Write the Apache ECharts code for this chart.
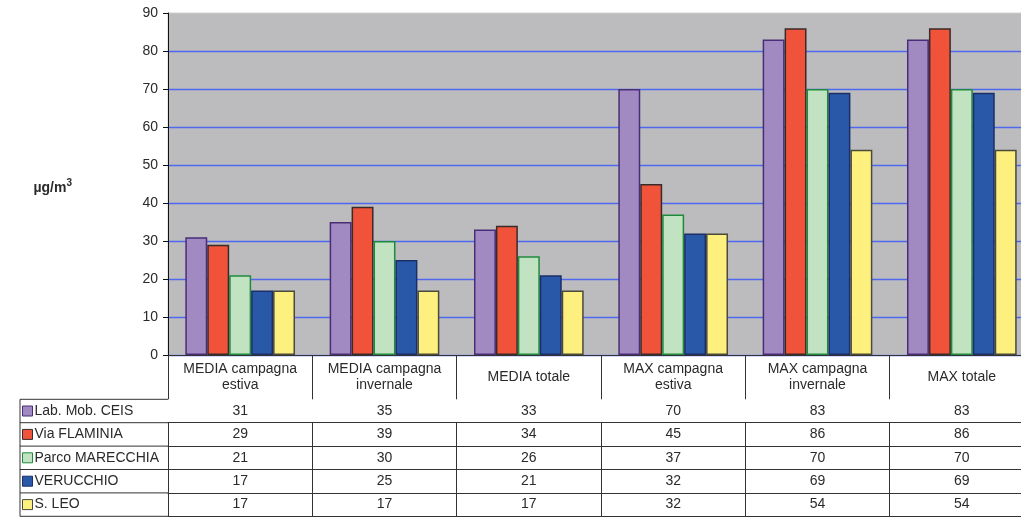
<!DOCTYPE html>
<html>
<head>
<meta charset="utf-8">
<script src="https://cdn.jsdelivr.net/npm/echarts@6/dist/echarts.min.js"></script>
<style>
  html, body { margin: 0; padding: 0; background: #fff; overflow: hidden; width: 1021px; height: 517px; }
  #chart { width: 1040px; height: 517px; }
</style>
</head>
<body>
<div id="chart"></div>
<script>
// Categories (column headers of the data table)
const categories = [
  'MEDIA campagna\nestiva',
  'MEDIA campagna\ninvernale',
  'MEDIA totale',
  'MAX campagna\nestiva',
  'MAX campagna\ninvernale',
  'MAX totale'
];

// Stations
const stations = ['Lab. Mob. CEIS', 'Via FLAMINIA', 'Parco MARECCHIA', 'VERUCCHIO', 'S. LEO'];

// Concentrations, µg/m³
const labMobCeis     = [31, 35, 33, 70, 83, 83];
const viaFlaminia    = [29, 39, 34, 45, 86, 86];
const parcoMarecchia = [21, 30, 26, 37, 70, 70];
const verucchio      = [17, 25, 21, 32, 69, 69];
const sanLeo         = [17, 17, 17, 32, 54, 54];

const yTicks = [0, 10, 20, 30, 40, 50, 60, 70, 80, 90];

const seriesValues = [labMobCeis, viaFlaminia, parcoMarecchia, verucchio, sanLeo];

// Styling
const fills   = ['#a189c1', '#f0533a', '#c2e3c2', '#2a58a8', '#fdf07e'];
const borders = ['#4a2c78', '#3a2b2b', '#1f8a3c', '#1a2f68', '#4a4a3a'];
const textColor = '#2a2a2a';
const lineColor = '#333';
const gridLineColor = '#4f68f0';
const font = 'Liberation Sans, Arial, sans-serif';
const fontSize = 14;

// Layout (the plot runs slightly past the right edge of the page)
const gridLeft = 168, gridTop = 13, gridBottomY = 355, gridWidth = 866;
const headerH = 44.3, rowH = 23.4;
const tableLeft = 20;

const chart = echarts.init(document.getElementById('chart'));

// One extra x axis per table row: its line is the row's top border,
// its ticks the column separators and its labels the row's values.
const rowAxes = stations.map((s, i) => ({
  type: 'category',
  gridIndex: 0,
  position: 'bottom',
  offset: headerH + rowH * i,
  data: categories,
  boundaryGap: true,
  axisLine: { show: true, lineStyle: { color: lineColor, width: 1 } },
  axisTick: { show: true, interval: 0, length: rowH, lineStyle: { color: lineColor, width: 1 } },
  axisLabel: {
    interval: 0,
    margin: rowH / 2,
    verticalAlign: 'middle',
    fontFamily: font, fontSize: fontSize, color: textColor,
    formatter: (v, idx) => String(seriesValues[i][idx])
  },
  splitLine: { show: false }
}));

// Closing bottom line of the table
const bottomAxis = {
  type: 'category',
  gridIndex: 0,
  position: 'bottom',
  offset: headerH + rowH * stations.length,
  data: categories,
  axisLine: { show: true, lineStyle: { color: lineColor, width: 1 } },
  axisTick: { show: false },
  axisLabel: { show: false },
  splitLine: { show: false }
};

// Left column borders (station names sit in the legend)
const tableTop = gridBottomY + headerH;
const leftColumn = [];
for (let r = 0; r <= stations.length; r++) {
  const y = tableTop + rowH * r;
  leftColumn.push({
    type: 'line',
    shape: { x1: tableLeft, y1: y, x2: gridLeft, y2: y },
    style: { stroke: lineColor, lineWidth: 1 },
    silent: true
  });
}
leftColumn.push({
  type: 'line',
  shape: { x1: tableLeft, y1: tableTop, x2: tableLeft, y2: tableTop + rowH * stations.length },
  style: { stroke: lineColor, lineWidth: 1 },
  silent: true
});

const option = {
  animation: false,
  backgroundColor: '#ffffff',
  textStyle: { fontFamily: font },
  grid: {
    left: gridLeft, top: gridTop, width: gridWidth, height: gridBottomY - gridTop,
    show: true, backgroundColor: '#bcbcbf', borderColor: '#d0d0d0', borderWidth: 1,
    containLabel: false
  },
  legend: {
    orient: 'vertical',
    left: tableLeft + 2,
    top: tableTop + (rowH - 15) / 2,
    itemWidth: 10,
    itemHeight: 10,
    itemGap: rowH - 15,
    icon: 'rect',
    selectedMode: false,
    padding: 0,
    textStyle: { fontFamily: font, fontSize: fontSize, color: textColor, lineHeight: 15, padding: [0, 0, 0, -3] },
    data: stations.map((s, i) => ({
      name: s,
      itemStyle: { color: fills[i], borderColor: borders[i], borderWidth: 1 }
    }))
  },
  xAxis: [
    {
      type: 'category',
      gridIndex: 0,
      position: 'bottom',
      data: categories,
      boundaryGap: true,
      axisLine: { show: true, onZero: false, lineStyle: { color: '#111', width: 1 } },
      axisTick: { show: true, interval: 0, length: headerH, lineStyle: { color: lineColor, width: 1 } },
      axisLabel: {
        interval: 0,
        margin: headerH / 2,
        verticalAlign: 'middle',
        align: 'center',
        lineHeight: 16,
        fontFamily: font, fontSize: fontSize, color: textColor
      },
      splitLine: { show: false }
    },
    ...rowAxes,
    bottomAxis
  ],
  yAxis: {
    type: 'value',
    min: yTicks[0],
    max: yTicks[yTicks.length - 1],
    interval: 10,
    axisLine: { show: true, lineStyle: { color: '#111', width: 1 } },
    axisTick: { show: true, length: 5, lineStyle: { color: '#111' } },
    axisLabel: { margin: 10, fontFamily: font, fontSize: fontSize, color: textColor },
    splitLine: {
      show: true,
      showMaxLine: false,
      lineStyle: { color: [gridLineColor], width: 1.3, opacity: 1 }
    },
    name: 'µg/m{sup|3}',
    nameLocation: 'middle',
    nameRotate: 0,
    nameGap: 96,
    nameTextStyle: {
      fontFamily: font, fontSize: 14, fontWeight: 'bold', color: textColor,
      padding: [8, 0, 0, 0],
      rich: { sup: { fontFamily: font, fontSize: 10, fontWeight: 'bold', color: textColor, verticalAlign: 'top', padding: [0, 0, 10, 0] } }
    }
  },
  series: stations.map((s, i) => ({
    name: s,
    type: 'bar',
    xAxisIndex: 0,
    data: seriesValues[i],
    barGap: '0%',
    barCategoryGap: '24%',
    itemStyle: { color: fills[i], borderColor: borders[i], borderWidth: 1.5 },
    emphasis: { disabled: true }
  })),
  graphic: leftColumn
};

chart.setOption(option);
</script>
</body>
</html>
